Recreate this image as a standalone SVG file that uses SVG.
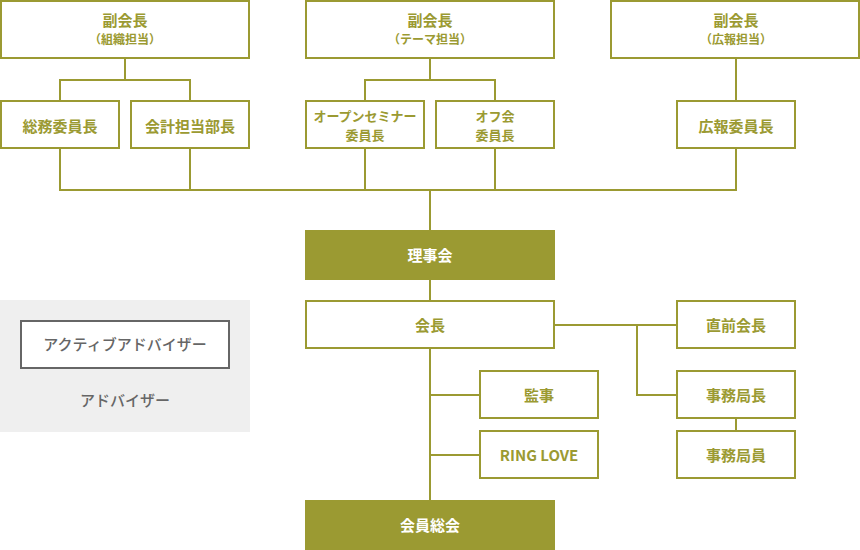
<svg xmlns="http://www.w3.org/2000/svg" width="860" height="550" viewBox="0 0 860 550">
<style>
.b{fill:#fff;stroke:#9b9a32;stroke-width:2}
.f{fill:#9b9a32}
.t{font-family:"Noto Sans CJK JP","Noto Sans",sans-serif;font-weight:bold;fill:#9b9a32;text-anchor:middle;dominant-baseline:central}
.s{font-size:15px}
.m{font-size:13px}
.x{font-size:12px}
.w{fill:#fff}
.c{fill:none;stroke:#9b9a32;stroke-width:2}
.g{font-family:"Noto Sans CJK JP","Noto Sans",sans-serif;font-weight:500;fill:#666;text-anchor:middle;dominant-baseline:central;font-size:15px}
</style>
<g id="connectors" class="c">
<path d="M125 59V80M60 100V80H190V100"/>
<path d="M430 59V80M365 100V80H495V100"/>
<path d="M736 59V100"/>
<path d="M60 149V190H736V149M190 149V190M365 149V190M495 149V190M430 190V230"/>
<path d="M430 280V300"/>
<path d="M430 349V500M430 395H479M430 455H479"/>
<path d="M555 325H676M637 325V395H676M736 419V430"/>
</g>
<g id="vp1"><rect class="b" x="1" y="1" width="248" height="57"/><text class="t s" x="125" y="19.5">副会長</text><text class="t x" x="125" y="38.5">（組織担当）</text></g>
<g id="vp2"><rect class="b" x="306" y="1" width="248" height="57"/><text class="t s" x="430" y="19.5">副会長</text><text class="t x" x="430" y="38.5">（テーマ担当）</text></g>
<g id="vp3"><rect class="b" x="611" y="1" width="248" height="57"/><text class="t s" x="736" y="19.5">副会長</text><text class="t x" x="736" y="38.5">（広報担当）</text></g>
<g id="soumu"><rect class="b" x="1" y="101" width="118" height="47"/><text class="t s" x="60" y="125.5">総務委員長</text></g>
<g id="kaikei"><rect class="b" x="131" y="101" width="118" height="47"/><text class="t s" x="190" y="125.5">会計担当部長</text></g>
<g id="seminar"><rect class="b" x="306" y="101" width="118" height="47"/><text class="t m" x="365" y="115.5">オープンセミナー</text><text class="t m" x="365" y="134.5">委員長</text></g>
<g id="offkai"><rect class="b" x="436" y="101" width="118" height="47"/><text class="t m" x="495" y="115.5">オフ会</text><text class="t m" x="495" y="134.5">委員長</text></g>
<g id="kouhou"><rect class="b" x="677" y="101" width="118" height="47"/><text class="t s" x="736" y="125.5">広報委員長</text></g>
<g id="rijikai"><rect class="f" x="305" y="230" width="250" height="50"/><text class="t s w" x="430" y="254.5">理事会</text></g>
<g id="kaichou"><rect class="b" x="306" y="301" width="248" height="47"/><text class="t s" x="430" y="324.5">会長</text></g>
<g id="chokuzen"><rect class="b" x="677" y="301" width="118" height="47"/><text class="t s" x="736" y="324.5">直前会長</text></g>
<g id="kanji"><rect class="b" x="480" y="371" width="118" height="47"/><text class="t s" x="539" y="394.5">監事</text></g>
<g id="ringlove"><rect class="b" x="480" y="431" width="118" height="47"/><text class="t s" x="539" y="454.5">RING LOVE</text></g>
<g id="jimukyokuchou"><rect class="b" x="677" y="371" width="118" height="47"/><text class="t s" x="736" y="394.5">事務局長</text></g>
<g id="jimukyokuin"><rect class="b" x="677" y="431" width="118" height="47"/><text class="t s" x="736" y="454.5">事務局員</text></g>
<g id="soukai"><rect class="f" x="305" y="500" width="250" height="50"/><text class="t s w" x="430" y="524.5">会員総会</text></g>
<g id="adviser"><rect x="0" y="300" width="250" height="132" fill="#efefef"/><rect x="21" y="321" width="208" height="47" fill="#fff" stroke="#666" stroke-width="2"/><text class="g" x="125" y="343.5">アクティブアドバイザー</text><text class="g" x="125" y="399.5">アドバイザー</text></g>
</svg>
